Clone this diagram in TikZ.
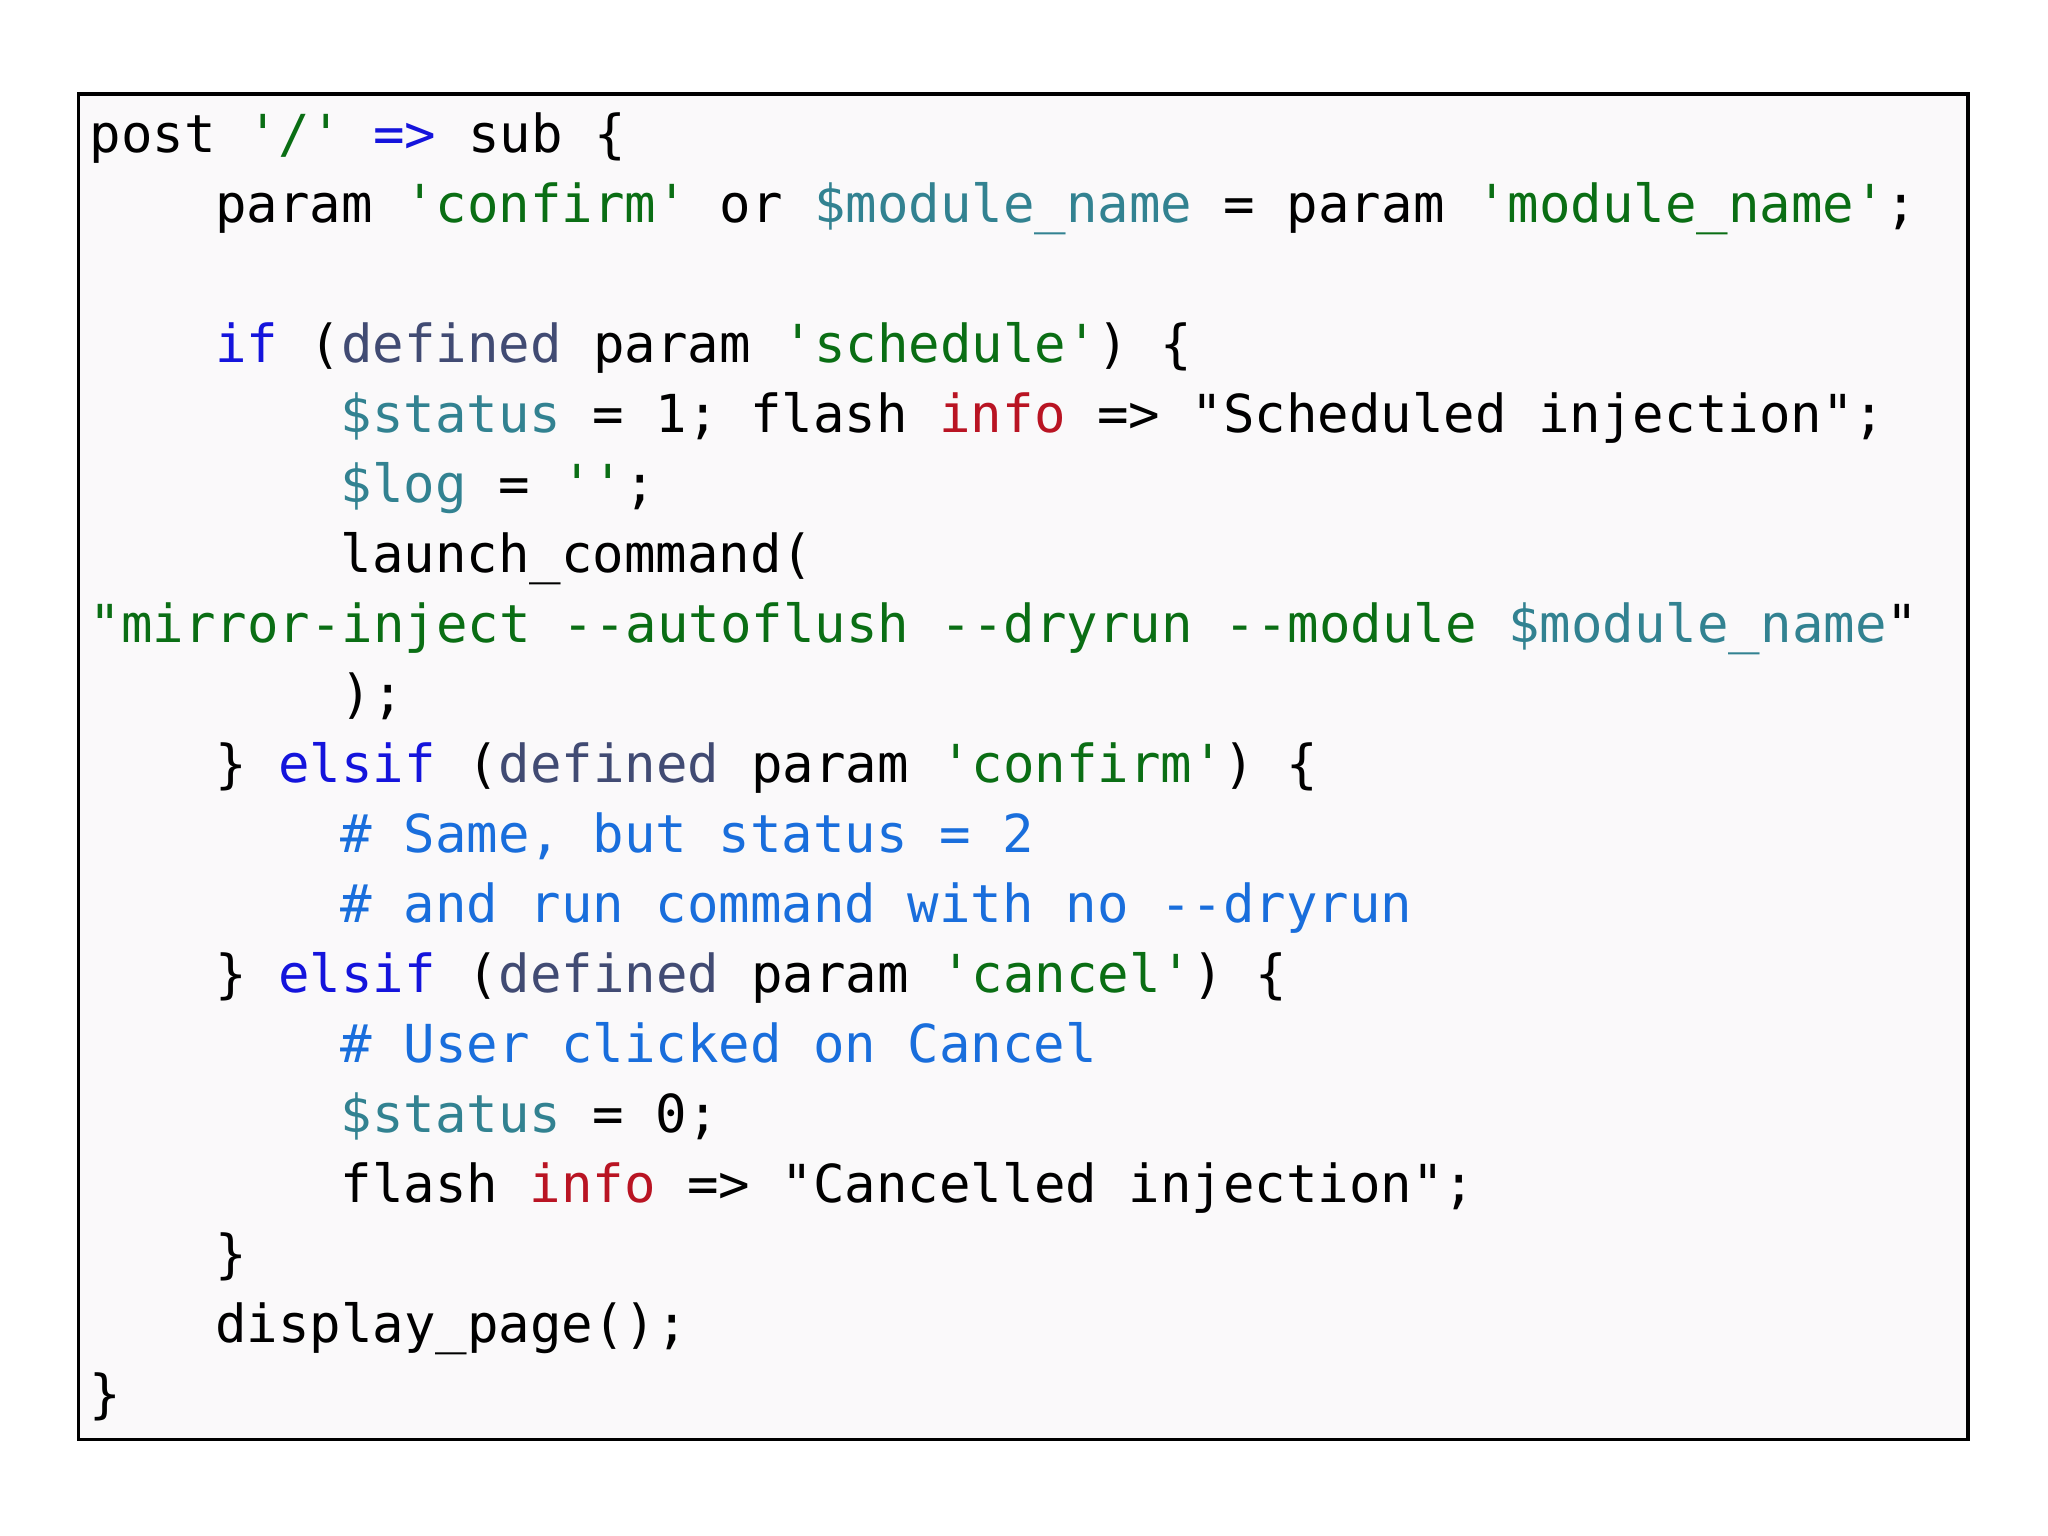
\documentclass[tikz,border=0pt]{standalone}
\usepackage{fontspec}
\newfontfamily\code{DejaVu Sans Mono}
\definecolor{kw}{RGB}{20,20,220}
\definecolor{st}{RGB}{10,110,20}
\definecolor{vr}{RGB}{50,130,145}
\definecolor{df}{RGB}{65,75,115}
\definecolor{inf}{RGB}{185,20,35}
\definecolor{cm}{RGB}{25,110,220}
\definecolor{bx}{RGB}{250,249,250}
\newcommand\KW[1]{\textcolor{kw}{#1}}
\newcommand\ST[1]{\textcolor{st}{#1}}
\newcommand\VR[1]{\textcolor{vr}{#1}}
\newcommand\DF[1]{\textcolor{df}{#1}}
\newcommand\INF[1]{\textcolor{inf}{#1}}
\newcommand\CM[1]{\textcolor{cm}{#1}}
\begin{document}
\begin{tikzpicture}[x=0.01cm,y=-0.01cm,
  ln/.style={anchor=base west,inner sep=0pt,font=\code\fontsize{11.4}{12}\selectfont}]
\useasboundingbox (0,0) rectangle (1568,1176);
\fill[white] (0,0) rectangle (1568,1176);
\draw[fill=bx,line width=0.8pt] (60,72) rectangle (1507,1102);
\foreach \i/\d/\t in {
1/0/{post \ST{'/'} \KW{=>} sub \{},
2/4/{param \ST{'confirm'} or \VR{\$module\_name} = param \ST{'module\_name'};},
4/4/{\KW{if} (\DF{defined} param \ST{'schedule'}) \{},
5/8/{\VR{\$status} = 1; flash \INF{info} => "Scheduled injection";},
6/8/{\VR{\$log} = \ST{''};},
7/8/{launch\_command(},
8/0/{\ST{"mirror-inject --autoflush --dryrun --module \VR{\$module\_name}}"},
9/8/{);},
10/4/{\} \KW{elsif} (\DF{defined} param \ST{'confirm'}) \{},
11/8/{\CM{\# Same, but status = 2}},
12/8/{\CM{\# and run command with no --dryrun}},
13/4/{\} \KW{elsif} (\DF{defined} param \ST{'cancel'}) \{},
14/8/{\CM{\# User clicked on Cancel}},
15/8/{\VR{\$status} = 0;},
16/8/{flash \INF{info} => "Cancelled injection";},
17/4/{\}},
18/4/{display\_page();},
19/0/{\}}}
{\node[ln] (l\i) at ({68+24*\d},{117+53.6*(\i-1)}) {\t};}
\end{tikzpicture}
\end{document}
